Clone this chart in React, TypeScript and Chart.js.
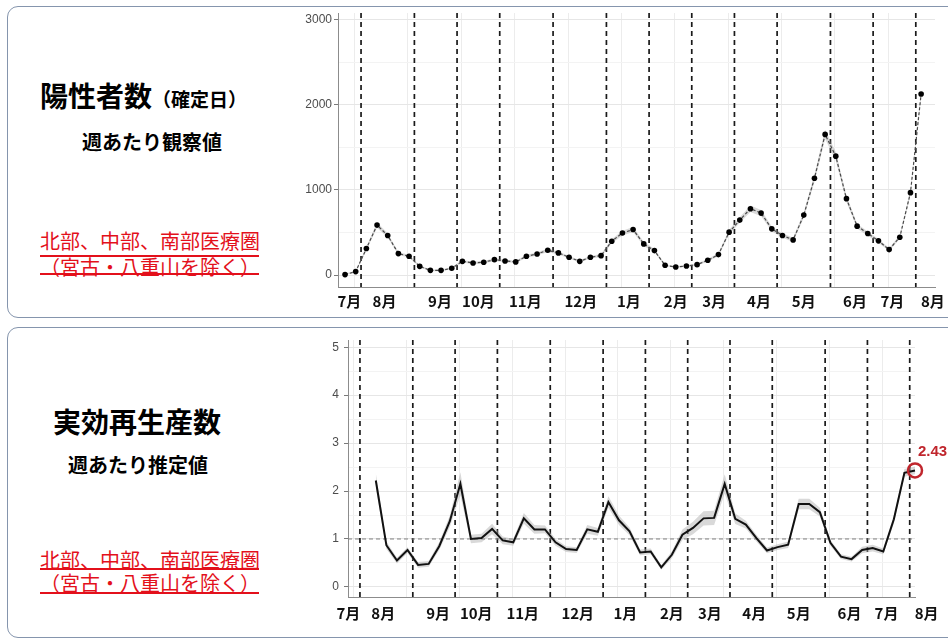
import React, { useEffect, useRef } from 'react';
import { Chart, registerables } from 'chart.js';

Chart.register(...registerables);

// ---------------- data ----------------
// weekly positive cases (observed), week index 0..54
const positives = [
  5, 40, 311, 587, 465, 252, 220, 102, 55, 55,
  79, 161, 142, 150, 181, 165, 154, 220, 248, 291,
  260, 209, 161, 209, 228, 398, 494, 535, 366, 287,
  114, 94, 106, 122, 173, 240, 504, 646, 780, 728,
  543, 465, 413, 705, 1138, 1654, 1398, 898, 575, 488,
  402, 299, 445, 969, 2130,
];
// half width of the light band around the observed line
const positivesBand = [
  10, 10, 20, 30, 25, 18, 15, 12, 10, 10,
  12, 15, 14, 14, 15, 15, 14, 18, 18, 20,
  18, 16, 15, 16, 18, 24, 28, 30, 24, 20,
  12, 10, 10, 12, 15, 18, 28, 32, 38, 36,
  28, 26, 24, 32, 45, 55, 50, 38, 28, 25,
  22, 18, 22, 30, 40,
];
const POS_START = 0;

// weekly effective reproduction number, week index 3..54
const rt = [
  2.22, 0.87, 0.55, 0.77, 0.46, 0.48, 0.85, 1.37, 2.15, 1.0,
  1.02, 1.21, 0.97, 0.93, 1.43, 1.2, 1.2, 0.93, 0.79, 0.77,
  1.2, 1.15, 1.77, 1.39, 1.16, 0.72, 0.74, 0.41, 0.67, 1.09,
  1.23, 1.43, 1.44, 2.15, 1.42, 1.3, 1.02, 0.76, 0.83, 0.88,
  1.73, 1.73, 1.56, 0.92, 0.63, 0.58, 0.77, 0.81, 0.74, 1.41,
  2.38, 2.43,
];
const rtBand = [
  0.15, 0.08, 0.06, 0.06, 0.06, 0.06, 0.08, 0.12, 0.24, 0.09,
  0.09, 0.11, 0.08, 0.07, 0.11, 0.09, 0.08, 0.07, 0.06, 0.06,
  0.09, 0.08, 0.12, 0.1, 0.08, 0.06, 0.06, 0.05, 0.07, 0.11,
  0.13, 0.15, 0.15, 0.2, 0.11, 0.08, 0.07, 0.06, 0.06, 0.07,
  0.11, 0.11, 0.09, 0.06, 0.05, 0.05, 0.07, 0.07, 0.06, 0.08,
  0.08, 0.08,
];
const RT_START = 3;
const RT_REFERENCE = 1;

// month axis (week index positions)
const monthLabels = ['7月', '8月', '9月', '10月', '11月', '12月', '1月', '2月', '3月', '4月', '5月', '6月', '7月', '8月'];
const monthLabelWeeks = [0.4, 3.7, 8.9, 12.5, 16.9, 22.1, 26.6, 31.0, 34.6, 38.8, 43.0, 47.8, 51.3, 55.1];
const monthBoundaryWeeks = [1.5, 6.5, 10.5, 14.5, 19.5, 24.5, 28.5, 32.5, 36.5, 40.5, 45.5, 49.5, 53.5];
const gridWeeks = [0.9, 5.9, 10.9, 15.9, 20.9, 25.9, 30.9, 35.9, 40.9, 45.9, 50.9];

const posTicks = [0, 500, 1000, 1500, 2000, 2500, 3000];
const rtTicks = [0, 0.5, 1, 1.5, 2, 2.5, 3, 3.5, 4, 4.5, 5];

// ---------------- styling ----------------
const CJK = '"Noto Sans CJK JP", "Noto Sans", sans-serif';
const RED = '#e3101b';
const ANNOT = '#c0262d';

const monthLinesPlugin = {
  id: 'monthLines',
  beforeDatasetsDraw(chart: any) {
    const { ctx, chartArea, scales } = chart;
    ctx.save();
    ctx.strokeStyle = '#1a1a1a';
    ctx.lineWidth = 1.7;
    ctx.setLineDash([5, 4]);
    monthBoundaryWeeks.forEach((b) => {
      const x = scales.x.getPixelForValue(b);
      ctx.beginPath();
      ctx.moveTo(x, chartArea.top);
      ctx.lineTo(x, chartArea.bottom);
      ctx.stroke();
    });
    ctx.restore();
  },
};

const lastLabelPlugin = {
  id: 'lastLabel',
  afterDatasetsDraw(chart: any, _args: any, opts: any) {
    if (!opts || opts.datasetIndex === undefined) return;
    const meta = chart.getDatasetMeta(opts.datasetIndex);
    const pt = meta && meta.data && meta.data[0];
    if (!pt) return;
    const { ctx } = chart;
    ctx.save();
    ctx.font = 'bold 15px "Liberation Sans", Arial, sans-serif';
    ctx.fillStyle = ANNOT;
    ctx.textAlign = 'left';
    ctx.textBaseline = 'middle';
    ctx.fillText(opts.text, pt.x + 3, pt.y - 19);
    ctx.restore();
  },
};

function xScales(min: number, max: number, axisHeight: number, labelPad: number) {
  return {
    x: {
      type: 'linear',
      position: 'bottom',
      min,
      max,
      bounds: 'data',
      afterBuildTicks: (s: any) => {
        s.ticks = monthLabelWeeks.map((v) => ({ value: v }));
      },
      afterFit: (s: any) => {
        s.height = axisHeight;
        s.paddingLeft = 0;
        s.paddingRight = 0;
      },
      ticks: {
        autoSkip: false,
        maxRotation: 0,
        minRotation: 0,
        padding: labelPad,
        color: '#111',
        font: { family: CJK, size: 15, weight: 'bold' },
        callback: (_v: any, i: number) => monthLabels[i],
      },
      grid: { display: false, drawTicks: false },
      border: { display: true, color: '#8c8c8c', width: 1 },
    },
    xg: {
      type: 'linear',
      position: 'bottom',
      min,
      max,
      bounds: 'data',
      afterBuildTicks: (s: any) => {
        s.ticks = gridWeeks.map((v) => ({ value: v }));
      },
      afterFit: (s: any) => {
        s.height = 0;
        s.paddingLeft = 0;
        s.paddingRight = 0;
      },
      ticks: { display: false },
      grid: { color: '#ececec', drawTicks: false, lineWidth: 1 },
      border: { display: false },
    },
  };
}

function yScale(min: number, max: number, ticks: number[], width: number, pad: number, isMajor: (v: number) => boolean) {
  return {
    type: 'linear',
    min,
    max,
    bounds: 'data',
    afterBuildTicks: (s: any) => {
      s.ticks = ticks.map((v) => ({ value: v }));
    },
    afterFit: (s: any) => {
      s.width = width;
      s.paddingTop = 0;
      s.paddingBottom = 0;
    },
    ticks: {
      padding: pad,
      color: '#4d4d4d',
      font: { family: '"Liberation Sans", Arial, sans-serif', size: 12 },
      callback: (v: any) => (isMajor(Number(v)) ? String(v) : ''),
    },
    grid: {
      color: (c: any) => (c.tick && isMajor(c.tick.value) ? '#e6e6e6' : '#f3f3f3'),
      tickColor: (c: any) => (c.tick && isMajor(c.tick.value) ? '#7a7a7a' : 'rgba(0,0,0,0)'),
      tickLength: 4,
      drawTicks: true,
      lineWidth: 1,
    },
    border: { display: true, color: '#8c8c8c', width: 1 },
  };
}

function positivesConfig(): any {
  const line = positives.map((v, i) => ({ x: i + POS_START, y: v }));
  const upper = positives.map((v, i) => ({ x: i + POS_START, y: v + positivesBand[i] }));
  const lower = positives.map((v, i) => ({ x: i + POS_START, y: Math.max(0, v - positivesBand[i]) }));
  return {
    type: 'line',
    data: {
      datasets: [
        {
          data: line,
          borderColor: '#4a4a4a',
          borderWidth: 1.2,
          borderDash: [3, 2],
          pointRadius: 2.8,
          pointBackgroundColor: '#000',
          pointBorderColor: '#000',
          pointBorderWidth: 0,
          tension: 0,
          order: 0,
        },
        {
          data: upper,
          borderWidth: 0,
          pointRadius: 0,
          fill: '+1',
          backgroundColor: 'rgba(150,150,150,0.35)',
          order: 5,
        },
        {
          data: lower,
          borderWidth: 0,
          pointRadius: 0,
          fill: false,
          order: 6,
        },
      ],
    },
    options: {
      responsive: false,
      animation: false,
      devicePixelRatio: 1,
      layout: { padding: { top: 5, right: 13, left: 0, bottom: 0 } },
      plugins: { legend: { display: false }, tooltip: { enabled: false }, lastLabel: {} },
      scales: {
        ...xScales(-0.66, 55.3, 27, 5),
        y: yScale(-141, 3082, posTicks, 42, 2, (v) => v % 1000 === 0),
      },
    },
    plugins: [monthLinesPlugin, lastLabelPlugin],
  };
}

function rtConfig(): any {
  const line = rt.map((v, i) => ({ x: i + RT_START, y: v }));
  const upper = rt.map((v, i) => ({ x: i + RT_START, y: v + rtBand[i] }));
  const lower = rt.map((v, i) => ({ x: i + RT_START, y: v - rtBand[i] }));
  const xMin = 0.37;
  const xMax = 54.0;
  const lastIdx = rt.length - 1;
  return {
    type: 'line',
    data: {
      datasets: [
        {
          data: line,
          borderColor: '#111',
          borderWidth: 2,
          pointRadius: 0,
          tension: 0,
          clip: false,
          order: 1,
        },
        {
          data: [{ x: lastIdx + RT_START, y: rt[lastIdx] }],
          showLine: false,
          pointRadius: 7,
          pointBorderWidth: 2.5,
          pointBorderColor: ANNOT,
          pointBackgroundColor: 'rgba(0,0,0,0)',
          clip: false,
          order: 0,
        },
        {
          data: [
            { x: xMin, y: RT_REFERENCE },
            { x: xMax, y: RT_REFERENCE },
          ],
          borderColor: '#808080',
          borderWidth: 1,
          borderDash: [4, 3],
          pointRadius: 0,
          order: 4,
        },
        {
          data: upper,
          borderWidth: 0,
          pointRadius: 0,
          fill: '+1',
          backgroundColor: 'rgba(170,170,170,0.45)',
          clip: false,
          order: 5,
        },
        {
          data: lower,
          borderWidth: 0,
          pointRadius: 0,
          fill: false,
          order: 6,
        },
      ],
    },
    options: {
      responsive: false,
      animation: false,
      devicePixelRatio: 1,
      layout: { padding: { top: 10, right: 33, left: 0, bottom: 0 } },
      plugins: {
        legend: { display: false },
        tooltip: { enabled: false },
        lastLabel: { datasetIndex: 1, text: rt[lastIdx].toFixed(2) },
      },
      scales: {
        ...xScales(xMin, xMax, 39, 7),
        y: yScale(-0.21, 5.15, rtTicks, 52, 5, (v) => Number.isInteger(v)),
      },
    },
    plugins: [monthLinesPlugin, lastLabelPlugin],
  };
}

function ChartCanvas({ left, top, width, height, make }: any) {
  const ref = useRef<HTMLCanvasElement | null>(null);
  useEffect(() => {
    if (!ref.current) return;
    const chart = new Chart(ref.current, make());
    return () => chart.destroy();
  }, []);
  return (
    <canvas
      ref={ref}
      width={width}
      height={height}
      style={{ position: 'absolute', left, top, width, height }}
    />
  );
}

function Txt({ left, top, size, weight, color, children }: any) {
  return (
    <div
      style={{
        position: 'absolute',
        left,
        top,
        fontFamily: CJK,
        fontSize: size,
        lineHeight: `${size}px`,
        fontWeight: weight || 'normal',
        color: color || '#000',
        whiteSpace: 'nowrap',
      }}
    >
      {children}
    </div>
  );
}

function Rule({ left, top, width }: any) {
  return <div style={{ position: 'absolute', left, top, width, height: 1.5, background: RED }} />;
}

const boxStyle = (top: number, height: number): React.CSSProperties => ({
  position: 'absolute',
  left: 7,
  top,
  width: 980,
  height,
  boxSizing: 'border-box',
  border: '1.5px solid #8595ad',
  borderRadius: 11,
  background: '#fff',
});

export default function App() {
  return (
    <div
      style={{
        position: 'absolute',
        left: 0,
        top: 0,
        width: 948,
        height: 639,
        overflow: 'hidden',
        background: '#fff',
      }}
    >
      <div style={boxStyle(6, 312)} />
      <div style={boxStyle(327, 311)} />

      {/* top panel text */}
      <Txt left={40} top={81} size={28} weight="bold">
        陽性者数
        <span style={{ fontSize: 19 }}>（確定日）</span>
      </Txt>
      <Txt left={82} top={132} size={20} weight="bold">
        週あたり観察値
      </Txt>
      <Txt left={40} top={231} size={20} color={RED}>
        北部、中部、南部医療圏
      </Txt>
      <Rule left={40} top={255} width={219} />
      <Txt left={40} top={257} size={20} color={RED}>
        （宮古・八重山を除く）
      </Txt>
      <Rule left={40} top={273} width={219} />

      {/* bottom panel text */}
      <Txt left={53} top={407} size={28} weight="bold">
        実効再生産数
      </Txt>
      <Txt left={68} top={455} size={20} weight="bold">
        週あたり推定値
      </Txt>
      <Txt left={40} top={550} size={20} color={RED}>
        北部、中部、南部医療圏
      </Txt>
      <Rule left={40} top={568} width={219} />
      <Txt left={40} top={573} size={20} color={RED}>
        （宮古・八重山を除く）
      </Txt>
      <Rule left={40} top={592} width={219} />

      <ChartCanvas left={296} top={8} width={652} height={306} make={positivesConfig} />
      <ChartCanvas left={296} top={330} width={652} height={306} make={rtConfig} />
    </div>
  );
}
